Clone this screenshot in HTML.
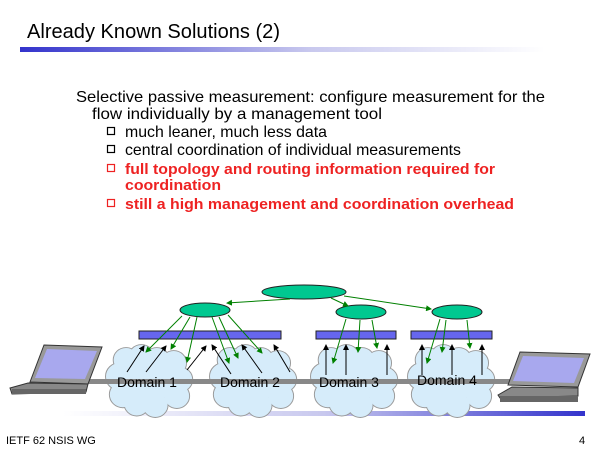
<!DOCTYPE html>
<html><head><meta charset="utf-8"><style>html,body{margin:0;padding:0;background:#fff}svg{display:block}</style></head>
<body>
<svg width="600" height="450" xmlns="http://www.w3.org/2000/svg" font-family="Liberation Sans, Arial, sans-serif">
<defs>
<linearGradient id="tg" x1="0" x2="1"><stop offset="0" stop-color="#3333cc"/><stop offset="0.55" stop-color="#c8c8ee"/><stop offset="1" stop-color="#fff"/></linearGradient>
<linearGradient id="bg" x1="0" x2="1"><stop offset="0" stop-color="#fff"/><stop offset="0.5" stop-color="#c8c8ee"/><stop offset="1" stop-color="#3333cc"/></linearGradient>
<marker id="ag" markerWidth="6" markerHeight="6" refX="5" refY="3" orient="auto"><path d="M0,0 L6,3 L0,6z" fill="#008000"/></marker>
<marker id="ab" markerWidth="6" markerHeight="6" refX="5" refY="3" orient="auto"><path d="M0,0 L6,3 L0,6z" fill="#000"/></marker>
<g id="cl">
 <circle cx="0" cy="0" r="16"/><circle cx="20" cy="-4" r="16"/><circle cx="40" cy="0" r="16"/><circle cx="62" cy="4" r="16"/>
 <circle cx="-8" cy="22" r="18"/><circle cx="70" cy="26" r="16"/><circle cx="-4" cy="46" r="17"/><circle cx="66" cy="48" r="16"/>
 <circle cx="14" cy="58" r="16"/><circle cx="38" cy="60" r="16"/><circle cx="30" cy="28" r="30"/>
</g>
</defs>
<text x="27" y="38" font-size="20" textLength="253" lengthAdjust="spacingAndGlyphs">Already Known Solutions (2)</text>
<rect x="20" y="47" width="525" height="5" fill="url(#tg)"/>
<rect x="63" y="411" width="522" height="5" fill="url(#bg)"/>

<g font-size="16">
<text x="76" y="102" textLength="469" lengthAdjust="spacingAndGlyphs">Selective passive measurement: configure measurement for the</text>
<text x="92" y="119" textLength="290" lengthAdjust="spacingAndGlyphs">flow individually by a management tool</text>
<text x="125" y="137" textLength="202" lengthAdjust="spacingAndGlyphs">much leaner, much less data</text>
<text x="125" y="155" textLength="336" lengthAdjust="spacingAndGlyphs">central coordination of individual measurements</text>
</g>
<g font-size="15" font-weight="bold" fill="#ee2222">
<text x="125" y="174" textLength="370" lengthAdjust="spacingAndGlyphs">full topology and routing information required for</text>
<text x="125" y="190" textLength="96" lengthAdjust="spacingAndGlyphs">coordination</text>
<text x="125" y="209" textLength="389" lengthAdjust="spacingAndGlyphs">still a high management and coordination overhead</text>
</g>
<g fill="none" stroke-width="1.2">
<rect x="107.5" y="127.5" width="7" height="7" stroke="#000"/>
<rect x="107.5" y="145.5" width="7" height="7" stroke="#000"/>
<rect x="107.5" y="164.5" width="7" height="7" stroke="#e22"/>
<rect x="107.5" y="199.5" width="7" height="7" stroke="#e22"/>
</g>

<!-- clouds -->
<g stroke="#999" stroke-width="2.5" fill="#999">
<use href="#cl" transform="translate(126,360) scale(0.77,0.75)"/>
<use href="#cl" transform="translate(230,360) scale(0.77,0.75)"/>
<use href="#cl" transform="translate(331,360) scale(0.77,0.75)"/>
<use href="#cl" transform="translate(428,360) scale(0.77,0.75)"/>
</g>
<g fill="#d6ecfa">
<use href="#cl" transform="translate(126,360) scale(0.77,0.75)"/>
<use href="#cl" transform="translate(230,360) scale(0.77,0.75)"/>
<use href="#cl" transform="translate(331,360) scale(0.77,0.75)"/>
<use href="#cl" transform="translate(428,360) scale(0.77,0.75)"/>
</g>
<!-- gray line -->
<rect x="85" y="379" width="430" height="5" fill="#888"/>

<!-- laptops -->
<g>
<path d="M30,382 L44,345 L102,347 L88,384z" fill="#999" stroke="#333"/>
<path d="M35,378 L47,349 L97,351 L85,379z" fill="#a8a8ee"/>
<path d="M10,388 L28,383 L88,384 L86,392 L12,394z" fill="#888" stroke="#333"/>
<rect x="12" y="389" width="74" height="5" fill="#666"/>
<path d="M508,385 L520,352 L590,354 L578,387z" fill="#999" stroke="#333"/>
<path d="M513,381 L523,356 L584,358 L574,383z" fill="#a8a8ee"/>
<path d="M498,395 L512,387 L578,388 L578,396 L500,398z" fill="#888" stroke="#333"/>
<rect x="500" y="396" width="78" height="6" fill="#666"/>
</g>

<g font-size="14" fill="#000">
<text x="117" y="387">Domain 1</text>
<text x="220" y="387">Domain 2</text>
<text x="319" y="387">Domain 3</text>
<text x="417" y="385">Domain 4</text>
</g>

<!-- bars -->
<g fill="#6666ee" stroke="#222" stroke-width="1">
<rect x="139" y="331" width="142" height="8"/>
<rect x="316" y="331" width="80" height="8"/>
<rect x="411" y="331" width="81" height="8"/>
</g>

<!-- ellipses -->
<g fill="#00c890" stroke="#222">
<ellipse cx="304" cy="292" rx="42" ry="7"/>
<ellipse cx="205" cy="310" rx="25" ry="7"/>
<ellipse cx="361" cy="312" rx="25" ry="7"/>
<ellipse cx="457" cy="312" rx="25" ry="7"/>
</g>

<!-- green arrows -->
<g stroke="#008000" stroke-width="1" marker-end="url(#ag)">
<line x1="290" y1="299" x2="227" y2="303"/>
<line x1="331" y1="298" x2="348" y2="306"/>
<line x1="344" y1="296" x2="431" y2="309"/>
<line x1="182" y1="316" x2="146" y2="352"/>
<line x1="190" y1="317" x2="171" y2="349"/>
<line x1="197" y1="317" x2="187" y2="362"/>
<line x1="212" y1="317" x2="229" y2="363"/>
<line x1="219" y1="317" x2="238" y2="358"/>
<line x1="228" y1="315" x2="262" y2="353"/>
<line x1="346" y1="319" x2="333" y2="363"/>
<line x1="360" y1="320" x2="358" y2="352"/>
<line x1="372" y1="320" x2="377" y2="348"/>
<line x1="440" y1="319" x2="427" y2="363"/>
<line x1="446" y1="320" x2="442" y2="352"/>
<line x1="467" y1="320" x2="470" y2="348"/>
</g>
<!-- black arrows -->
<g stroke="#000" stroke-width="1" marker-end="url(#ab)">
<line x1="127" y1="372" x2="144" y2="346"/>
<line x1="146" y1="372" x2="166" y2="346"/>
<line x1="187" y1="370" x2="206" y2="346"/>
<line x1="231" y1="374" x2="212" y2="345"/>
<line x1="262" y1="373" x2="242" y2="345"/>
<line x1="290" y1="372" x2="274" y2="345"/>
<line x1="326" y1="375" x2="326" y2="345"/>
<line x1="346" y1="375" x2="346" y2="345"/>
<line x1="387" y1="375" x2="387" y2="345"/>
<line x1="422" y1="375" x2="422" y2="345"/>
<line x1="452" y1="375" x2="452" y2="345"/>
<line x1="482" y1="375" x2="482" y2="345"/>
</g>

<text x="6" y="444" font-size="11">IETF 62 NSIS WG</text>
<text x="579" y="444" font-size="11">4</text>
</svg>
</body></html>
